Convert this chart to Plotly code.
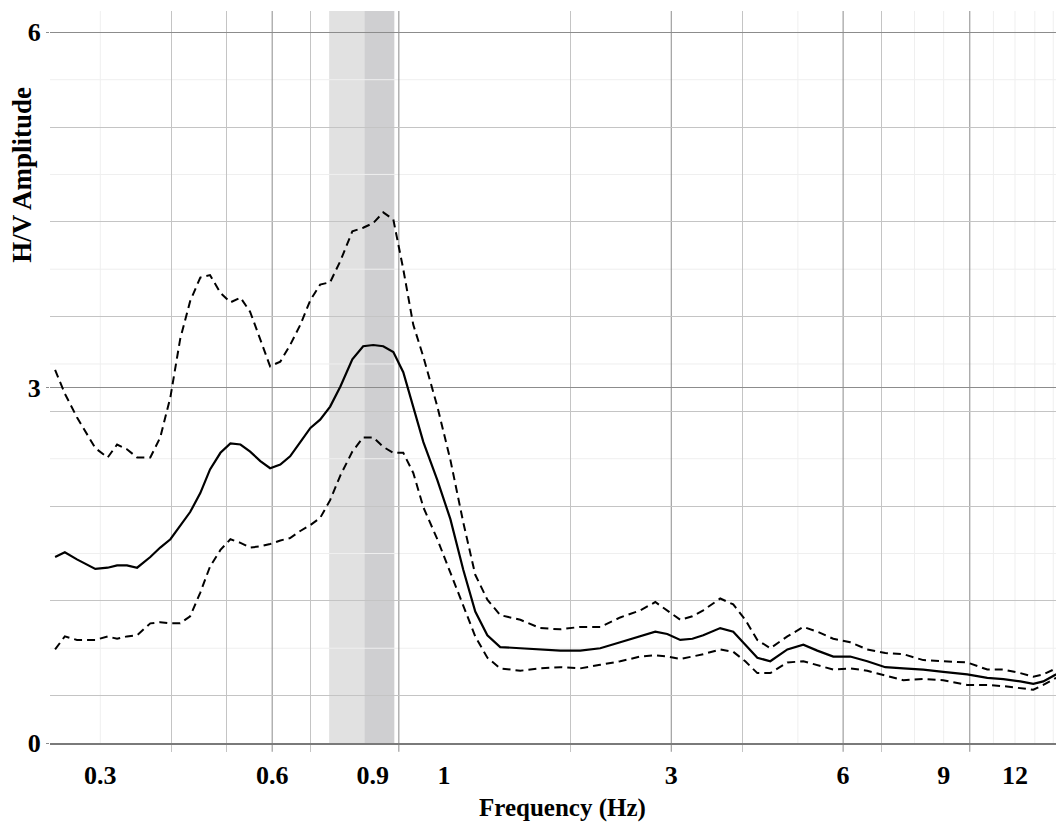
import plotly.graph_objects as go

# ---- data ----
freq = [0.250, 0.260, 0.273, 0.294, 0.309, 0.321, 0.334, 0.348, 0.367, 0.382,
        0.398, 0.414, 0.431, 0.449, 0.467, 0.487, 0.507, 0.528, 0.549, 0.572,
        0.595, 0.620, 0.645, 0.672, 0.700, 0.728, 0.758, 0.790, 0.829, 0.866,
        0.902, 0.939, 0.978, 1.018, 1.060, 1.104, 1.168, 1.231, 1.297, 1.361,
        1.429, 1.505, 1.632, 1.769, 1.918, 2.078, 2.253, 2.442, 2.648, 2.813,
        2.952, 3.111, 3.267, 3.413, 3.655, 3.852, 4.044, 4.245, 4.473, 4.792,
        5.110, 5.406, 5.766, 6.174, 6.613, 7.113, 7.648, 8.289, 8.985, 9.899,
        10.73, 11.45, 12.26, 12.92, 13.45, 14.17]

hv_mean = [1.57, 1.61, 1.55, 1.47, 1.48, 1.50, 1.50, 1.48, 1.57, 1.65,
           1.72, 1.83, 1.95, 2.11, 2.31, 2.45, 2.53, 2.52, 2.46, 2.38,
           2.32, 2.35, 2.42, 2.54, 2.66, 2.73, 2.84, 3.01, 3.24, 3.35,
           3.36, 3.35, 3.30, 3.13, 2.84, 2.54, 2.22, 1.89, 1.46, 1.11,
           0.91, 0.81, 0.80, 0.79, 0.78, 0.78, 0.80, 0.85, 0.90, 0.94,
           0.92, 0.87, 0.88, 0.91, 0.97, 0.94, 0.83, 0.72, 0.69, 0.79,
           0.83, 0.78, 0.73, 0.73, 0.69, 0.64, 0.63, 0.62, 0.60, 0.58,
           0.55, 0.54, 0.52, 0.50, 0.52, 0.58]

hv_upper = [3.15, 2.95, 2.75, 2.49, 2.41, 2.52, 2.48, 2.41, 2.41, 2.58,
            2.92, 3.41, 3.73, 3.93, 3.95, 3.80, 3.72, 3.76, 3.64, 3.41,
            3.18, 3.22, 3.36, 3.53, 3.74, 3.87, 3.89, 4.07, 4.32, 4.35,
            4.39, 4.48, 4.42, 4.00, 3.53, 3.26, 2.84, 2.39, 1.86, 1.42,
            1.21, 1.08, 1.04, 0.97, 0.96, 0.98, 0.98, 1.06, 1.12, 1.19,
            1.12, 1.04, 1.07, 1.12, 1.22, 1.17, 1.04, 0.87, 0.80, 0.90,
            0.98, 0.94, 0.88, 0.85, 0.79, 0.76, 0.75, 0.70, 0.69, 0.68,
            0.62, 0.62, 0.59, 0.56, 0.58, 0.63]

hv_lower = [0.79, 0.90, 0.87, 0.87, 0.90, 0.88, 0.90, 0.91, 1.01, 1.02,
            1.01, 1.01, 1.07, 1.27, 1.49, 1.63, 1.72, 1.69, 1.65, 1.66,
            1.68, 1.71, 1.73, 1.79, 1.84, 1.90, 2.05, 2.26, 2.46, 2.58,
            2.58, 2.50, 2.45, 2.45, 2.28, 1.99, 1.72, 1.44, 1.15, 0.90,
            0.72, 0.63, 0.61, 0.63, 0.64, 0.63, 0.66, 0.69, 0.73, 0.74,
            0.73, 0.71, 0.73, 0.75, 0.79, 0.77, 0.69, 0.59, 0.59, 0.68,
            0.69, 0.66, 0.62, 0.63, 0.61, 0.57, 0.53, 0.54, 0.53, 0.49,
            0.49, 0.48, 0.46, 0.45, 0.49, 0.55]

# peak-frequency bands (Hz)
band_light = [0.755, 0.870]
band_dark = [0.870, 0.982]

# tick labels
x_tickvals = [0.3, 0.6, 0.9, 1.2, 3, 6, 9, 12]
x_ticktext = ["0.3", "0.6", "0.9", "1", "3", "6", "9", "12"]
y_tickvals = [0, 3, 6]
y_ticktext = ["0", "3", "6"]

# grid lines
x_grid_dark = [0.6, 1, 3, 6, 10]
x_grid_mid = [0.4, 0.5, 0.7, 2, 4, 7]
x_grid_faint = [0.3, 5, 8, 9, 11, 12, 13, 14]
y_grid_mid = [0.4, 1.2, 2.0, 2.8, 3.6, 4.4, 5.2]
y_grid_faint = [0.8, 1.6, 2.4, 3.2, 4.0, 4.8, 5.6]

DARK = "#8c8c8c"
MID = "#c4c4c4"
FAINT = "#efefef"
FONT = "Liberation Serif"

fig = go.Figure()
dash_style = dict(color="black", width=2, dash="8px,5px")
fig.add_trace(go.Scatter(x=freq, y=hv_upper, mode="lines", line=dash_style))
fig.add_trace(go.Scatter(x=freq, y=hv_lower, mode="lines", line=dash_style))
fig.add_trace(go.Scatter(x=freq, y=hv_mean, mode="lines",
                         line=dict(color="black", width=2.2)))

shapes = []
shapes.append(dict(type="rect", xref="x", yref="paper", x0=band_light[0], x1=band_light[1],
                   y0=0, y1=1, fillcolor="#e1e1e1", line=dict(width=0), layer="below"))
shapes.append(dict(type="rect", xref="x", yref="paper", x0=band_dark[0], x1=band_dark[1],
                   y0=0, y1=1, fillcolor="#cfcfd1", line=dict(width=0), layer="below"))
for v in x_grid_faint:
    shapes.append(dict(type="line", xref="x", yref="paper", x0=v, x1=v, y0=0, y1=1,
                       line=dict(color=FAINT, width=1), layer="below"))
for v in y_grid_faint:
    shapes.append(dict(type="line", xref="paper", yref="y", x0=0, x1=1, y0=v, y1=v,
                       line=dict(color=FAINT, width=1), layer="below"))
for v in x_grid_dark:
    shapes.append(dict(type="line", xref="x", yref="paper", x0=v, x1=v, y0=-0.012, y1=1,
                       line=dict(color=DARK, width=1), layer="below"))

fig.update_layout(
    width=1056, height=830,
    margin=dict(l=50, r=0, t=11, b=87),
    paper_bgcolor="white", plot_bgcolor="white",
    showlegend=False, hovermode=False,
    shapes=shapes,
    font=dict(family=FONT, color="black"),
    xaxis=dict(
        type="log", range=[-0.611, 1.151],
        tickmode="array", tickvals=x_tickvals, ticktext=x_ticktext,
        showgrid=False, ticks="", ticklabelstandoff=8,
        tickfont=dict(family=FONT, size=26, color="black", weight="bold"),
        showline=True, linecolor="#7a7a7a", linewidth=1.5,
        zeroline=False,
        minor=dict(tickmode="array", tickvals=x_grid_mid, showgrid=True,
                   gridcolor=MID, gridwidth=1, ticks="outside", ticklen=7,
                   tickcolor=MID),
    ),
    yaxis=dict(
        range=[0, 6.18],
        tickmode="array", tickvals=y_tickvals, ticktext=y_ticktext,
        showgrid=True, gridcolor=DARK, gridwidth=1,
        ticks="outside", ticklen=3, tickcolor=DARK, ticklabelstandoff=0,
        tickfont=dict(family=FONT, size=26, color="black", weight="bold"),
        showline=False, zeroline=False,
        minor=dict(tickmode="array", tickvals=y_grid_mid, showgrid=True,
                   gridcolor=MID, gridwidth=1),
    ),
    annotations=[
        dict(text="<b>Frequency (Hz)</b>", xref="paper", yref="paper",
             x=0.509, y=-0.089, xanchor="center", yanchor="middle",
             showarrow=False, font=dict(family=FONT, size=25, color="black")),
        dict(text="<b>H/V Amplitude</b>", xref="paper", yref="paper",
             x=-0.028, y=0.776, xanchor="center", yanchor="middle", textangle=-90,
             showarrow=False, font=dict(family=FONT, size=27, color="black")),
    ],
)

fig.write_html(
    "out.html",
    config={"displayModeBar": False, "staticPlot": True},
    post_script="document.body.style.margin='0';document.body.style.overflow='hidden';",
)
